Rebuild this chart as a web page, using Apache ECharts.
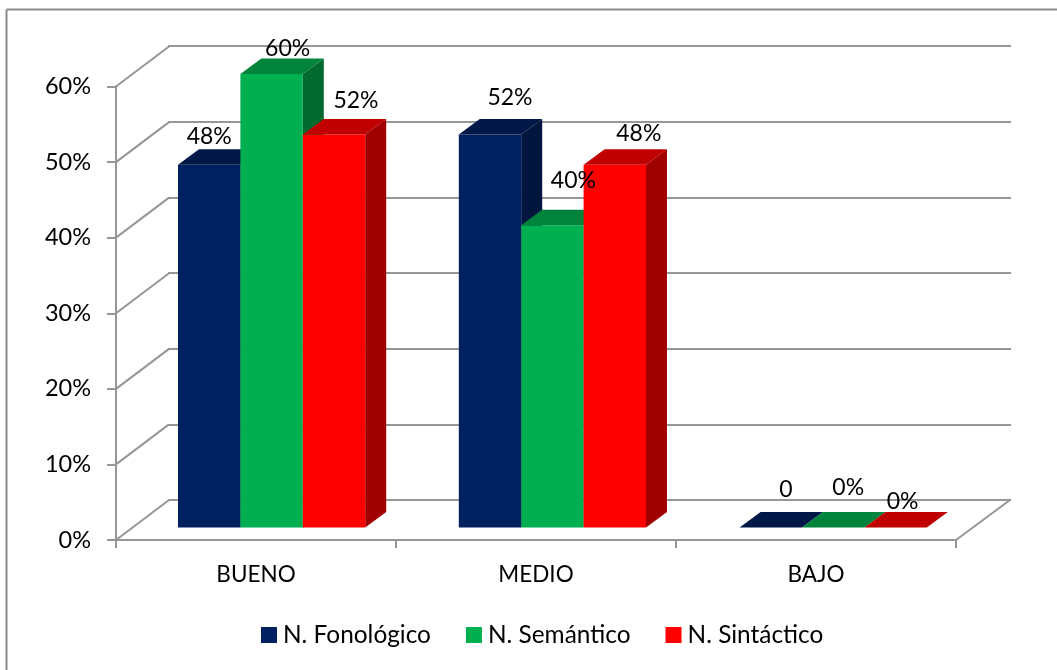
<!DOCTYPE html>
<html>
<head>
<meta charset="utf-8">
<style>html,body{margin:0;padding:0;background:#fff}#c{width:1057px;height:670px}</style>
<script src="https://cdn.jsdelivr.net/npm/echarts@6/dist/echarts.min.js"></script>
</head>
<body>
<div id="c"></div>
<script>
const categories = ['BUENO', 'MEDIO', 'BAJO'];
const fonologico = [48, 52, 0];
const semantico = [60, 40, 0];
const sintactico = [52, 48, 0];
const fonologicoLabels = ['48%', '52%', '0'];
const semanticoLabels = ['60%', '40%', '0%'];
const sintacticoLabels = ['52%', '48%', '0%'];
const yTicks = [0, 10, 20, 30, 40, 50, 60];

const FONT = 'Lato';
const GRID = '#969696';
const WALL = {dx: 53, dy: -40};
const BAR = {dx: 21, dy: -15.5, liftY: 12.5, width: 62.4, start: 62, bandExtra: 0.8};

const faces = [
  {front: '#002060', top: '#001848', side: '#00163F'},
  {front: '#00B050', top: '#00843C', side: '#006A30'},
  {front: '#FF0000', top: '#C00000', side: '#A00000'}
];
// label nudges relative to top-centre of each bar's front face
const nudges = [
  [[0, -28], [20, -37], [15, -38]],
  [[16, -25], [21, -45], [15, -40]],
  [[22, -34], [24, -31], [7, -26]]
];

function barBox(si, api) {
  const c = api.value(0), v = api.value(1);
  const band = api.size([1, 0])[0];
  const p = api.coord([c, v]), p0 = api.coord([c, 0]);
  const x0 = p[0] - band / 2 + BAR.start + c * BAR.bandExtra + si * BAR.width;
  return {c, v, x0, x1: x0 + BAR.width, yb: p0[1] - BAR.liftY, yt: p[1] - BAR.liftY};
}

function barRenderer(si) {
  return function (params, api) {
    const {v, x0, x1, yb, yt} = barBox(si, api);
    const f = faces[si], dx = BAR.dx, dy = BAR.dy;
    const kids = [];
    if (v > 0) {
      kids.push({type: 'polygon', shape: {points: [[x1, yb], [x1 + dx, yb + dy], [x1 + dx, yt + dy], [x1, yt]]}, style: {fill: f.side}});
      kids.push({type: 'rect', shape: {x: x0, y: yt, width: x1 - x0, height: yb - yt}, style: {fill: f.front}});
    }
    kids.push({type: 'polygon', shape: {points: [[x0, yt], [x0 + dx, yt + dy], [x1 + dx, yt + dy], [x1, yt]]}, style: {fill: f.top}});
    return {type: 'group', children: kids};
  };
}

function labelRenderer(si, labels) {
  return function (params, api) {
    const {c, x0, x1, yt} = barBox(si, api);
    const n = nudges[si][c];
    return {type: 'text', style: {text: labels[c], x: (x0 + x1) / 2 + n[0], y: yt + n[1], align: 'center', verticalAlign: 'middle', font: '23px ' + FONT, fill: '#000'}};
  };
}

function wallRenderer(params, api) {
  const v = api.value(0);
  const band = api.size([1, 0])[0];
  const p = api.coord([0, v]);
  const x = p[0] - band / 2;
  const kids = [{type: 'line', shape: {x1: x, y1: p[1], x2: x + WALL.dx, y2: p[1] + WALL.dy}, style: {stroke: GRID, lineWidth: 2}}];
  if (v === 0) {
    const q = api.coord([categories.length - 1, 0]);
    const xr = q[0] + band / 2;
    kids.push({type: 'line', shape: {x1: xr, y1: q[1], x2: xr + WALL.dx + 1, y2: q[1] + WALL.dy}, style: {stroke: GRID, lineWidth: 2}});
  }
  return {type: 'group', children: kids};
}

const chart = echarts.init(document.getElementById('c'), null, {renderer: 'canvas'});
const mk = (arr) => arr.map((v, i) => [i, v]);
const axisLine = {show: true, lineStyle: {color: GRID, width: 2}};
const barSeries = (name, si, arr) => ({type: 'custom', name, xAxisIndex: 0, yAxisIndex: 0, itemStyle: {color: faces[si].front}, data: mk(arr), encode: {x: 0, y: 1}, renderItem: barRenderer(si), z: 3 + si, clip: false});
const labelSeries = (si, arr, labels) => ({type: 'custom', name: 'labels' + si, xAxisIndex: 0, yAxisIndex: 0, data: mk(arr), encode: {x: 0, y: 1}, renderItem: labelRenderer(si, labels), z: 10, silent: true, clip: false});

chart.setOption({
  animation: false,
  backgroundColor: '#fff',
  textStyle: {fontFamily: FONT},
  grid: [
    {left: 116, top: 86.5, width: 840, height: 453.5},
    {left: 168, top: 46, width: 843, height: 454}
  ],
  xAxis: [
    {type: 'category', gridIndex: 0, data: categories, boundaryGap: true,
     axisLine: axisLine, axisTick: {show: true, length: 8, lineStyle: {color: GRID, width: 2}},
     axisLabel: {color: '#000', fontSize: 22.5, fontFamily: FONT, margin: 23}, splitLine: {show: false}},
    {type: 'category', gridIndex: 1, data: categories, show: false}
  ],
  yAxis: [
    {type: 'value', gridIndex: 0, min: 0, max: 60, interval: 10,
     axisLine: axisLine, axisTick: {show: true, length: 9, lineStyle: {color: GRID, width: 2}},
     axisLabel: {color: '#000', fontSize: 23.5, fontFamily: FONT, margin: 25, formatter: '{value}%'}, splitLine: {show: false}},
    {type: 'value', gridIndex: 1, min: 0, max: 60, interval: 10,
     axisLine: {show: false}, axisTick: {show: false}, axisLabel: {show: false},
     splitLine: {show: true, lineStyle: {color: GRID, width: 2}}}
  ],
  legend: {
    left: 256, top: 618, icon: 'rect', itemWidth: 16, itemHeight: 16, itemGap: 35,
    selectedMode: false,
    textStyle: {color: '#000', fontSize: 24.4, fontFamily: FONT, padding: [0, 0, 0, 1]},
    data: ['N. Fonológico', 'N. Semántico', 'N. Sintáctico']
  },
  graphic: [
    {type: 'line', shape: {x1: 6.5, y1: 9.5, x2: 6.5, y2: 670}, style: {stroke: '#8c8c8c', lineWidth: 2}, silent: true},
    {type: 'line', shape: {x1: 6.5, y1: 9.5, x2: 1057, y2: 9.5}, style: {stroke: '#8c8c8c', lineWidth: 2}, silent: true}
  ],
  series: [
    {type: 'custom', name: 'wall', xAxisIndex: 0, yAxisIndex: 0, data: yTicks.map(v => [v]), encode: {y: 0}, renderItem: wallRenderer, silent: true, z: 1, clip: false},
    barSeries('N. Fonológico', 0, fonologico),
    barSeries('N. Semántico', 1, semantico),
    barSeries('N. Sintáctico', 2, sintactico),
    labelSeries(0, fonologico, fonologicoLabels),
    labelSeries(1, semantico, semanticoLabels),
    labelSeries(2, sintactico, sintacticoLabels)
  ]
});
</script>
</body>
</html>
